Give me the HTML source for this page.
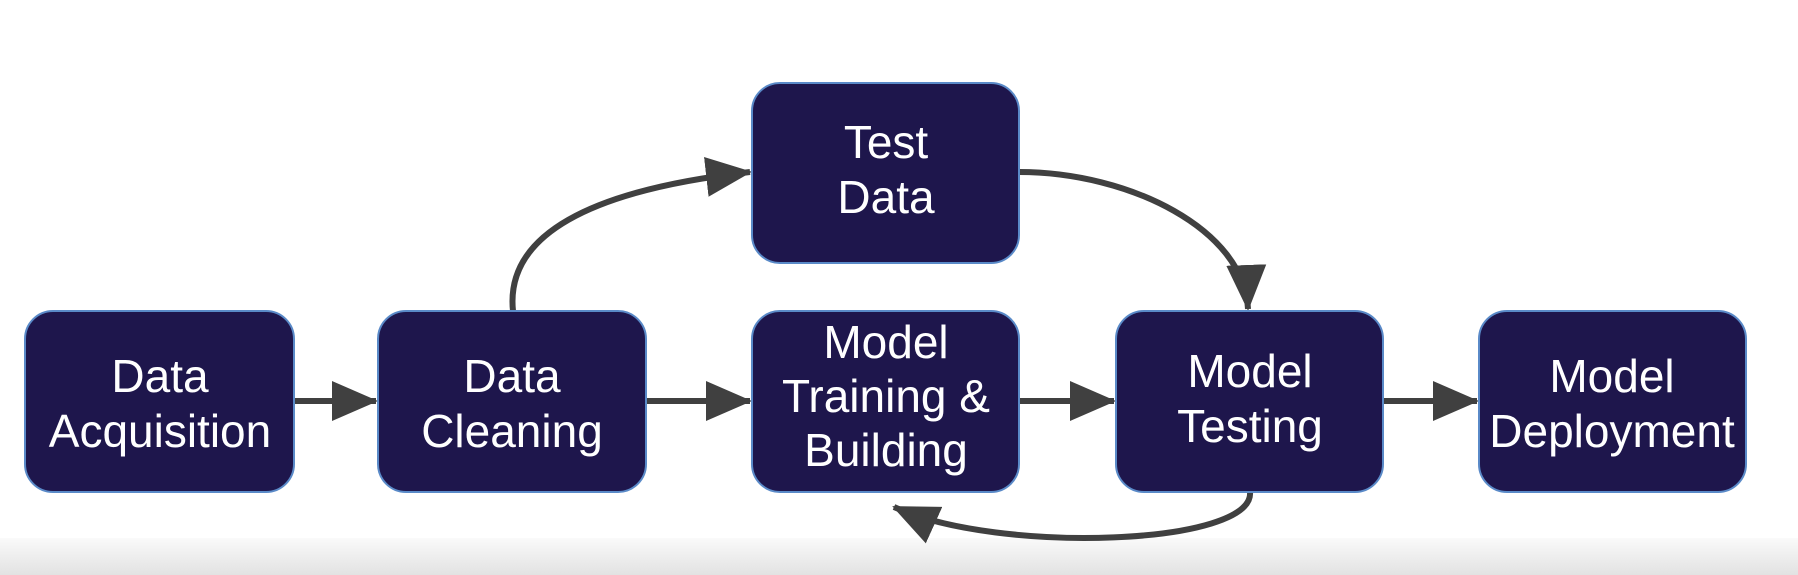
<!DOCTYPE html>
<html><head><style>
html,body{margin:0;padding:0;}
body{width:1798px;height:575px;overflow:hidden;background:#fff;}
svg{display:block;}
text{font-family:"Liberation Sans",sans-serif;font-size:46px;fill:#fff;text-anchor:middle;}
</style></head><body>
<svg width="1798" height="575" viewBox="0 0 1798 575">
<defs>
<linearGradient id="g" x1="0" y1="0" x2="0" y2="1">
<stop offset="0" stop-color="#fafafa"/><stop offset="1" stop-color="#e2e2e2"/>
</linearGradient>
<marker id="a" markerUnits="userSpaceOnUse" markerWidth="46" markerHeight="40" refX="44" refY="20" orient="auto">
<path d="M0,0 L46,20 L0,40 Z" fill="#404040"/>
</marker>
</defs>
<rect x="0" y="538" width="1798" height="37" fill="url(#g)"/>
<g fill="none" stroke="#404040" stroke-width="6">
<line x1="294" y1="401" x2="376" y2="401" marker-end="url(#a)"/>
<line x1="646" y1="401" x2="750" y2="401" marker-end="url(#a)"/>
<line x1="1019" y1="401" x2="1114" y2="401" marker-end="url(#a)"/>
<line x1="1383" y1="401" x2="1477" y2="401" marker-end="url(#a)"/>
<path d="M513,311 C505,235 590,190 750,172" marker-end="url(#a)"/>
<path d="M1019,172 C1130,172 1245,230 1248,309" marker-end="url(#a)"/>
<path d="M1250,492 C1255,545 1000,555 894,507" marker-end="url(#a)"/>
</g>
<g fill="#1e164c" stroke="#5a8ac8" stroke-width="2">
<rect x="25" y="311" width="269" height="181" rx="28"/>
<rect x="378" y="311" width="268" height="181" rx="28"/>
<rect x="752" y="83" width="267" height="180" rx="28"/>
<rect x="752" y="311" width="267" height="181" rx="28"/>
<rect x="1116" y="311" width="267" height="181" rx="28"/>
<rect x="1479" y="311" width="267" height="181" rx="28"/>
</g>
<text x="160" y="392">Data</text><text x="160" y="447">Acquisition</text>
<text x="512" y="392">Data</text><text x="512" y="447">Cleaning</text>
<text x="886" y="158">Test</text><text x="886" y="213">Data</text>
<text x="886" y="358">Model</text><text x="886" y="412">Training &amp;</text><text x="886" y="466">Building</text>
<text x="1250" y="387">Model</text><text x="1250" y="442">Testing</text>
<text x="1612" y="392">Model</text><text x="1612" y="447">Deployment</text>
</svg>
</body></html>
